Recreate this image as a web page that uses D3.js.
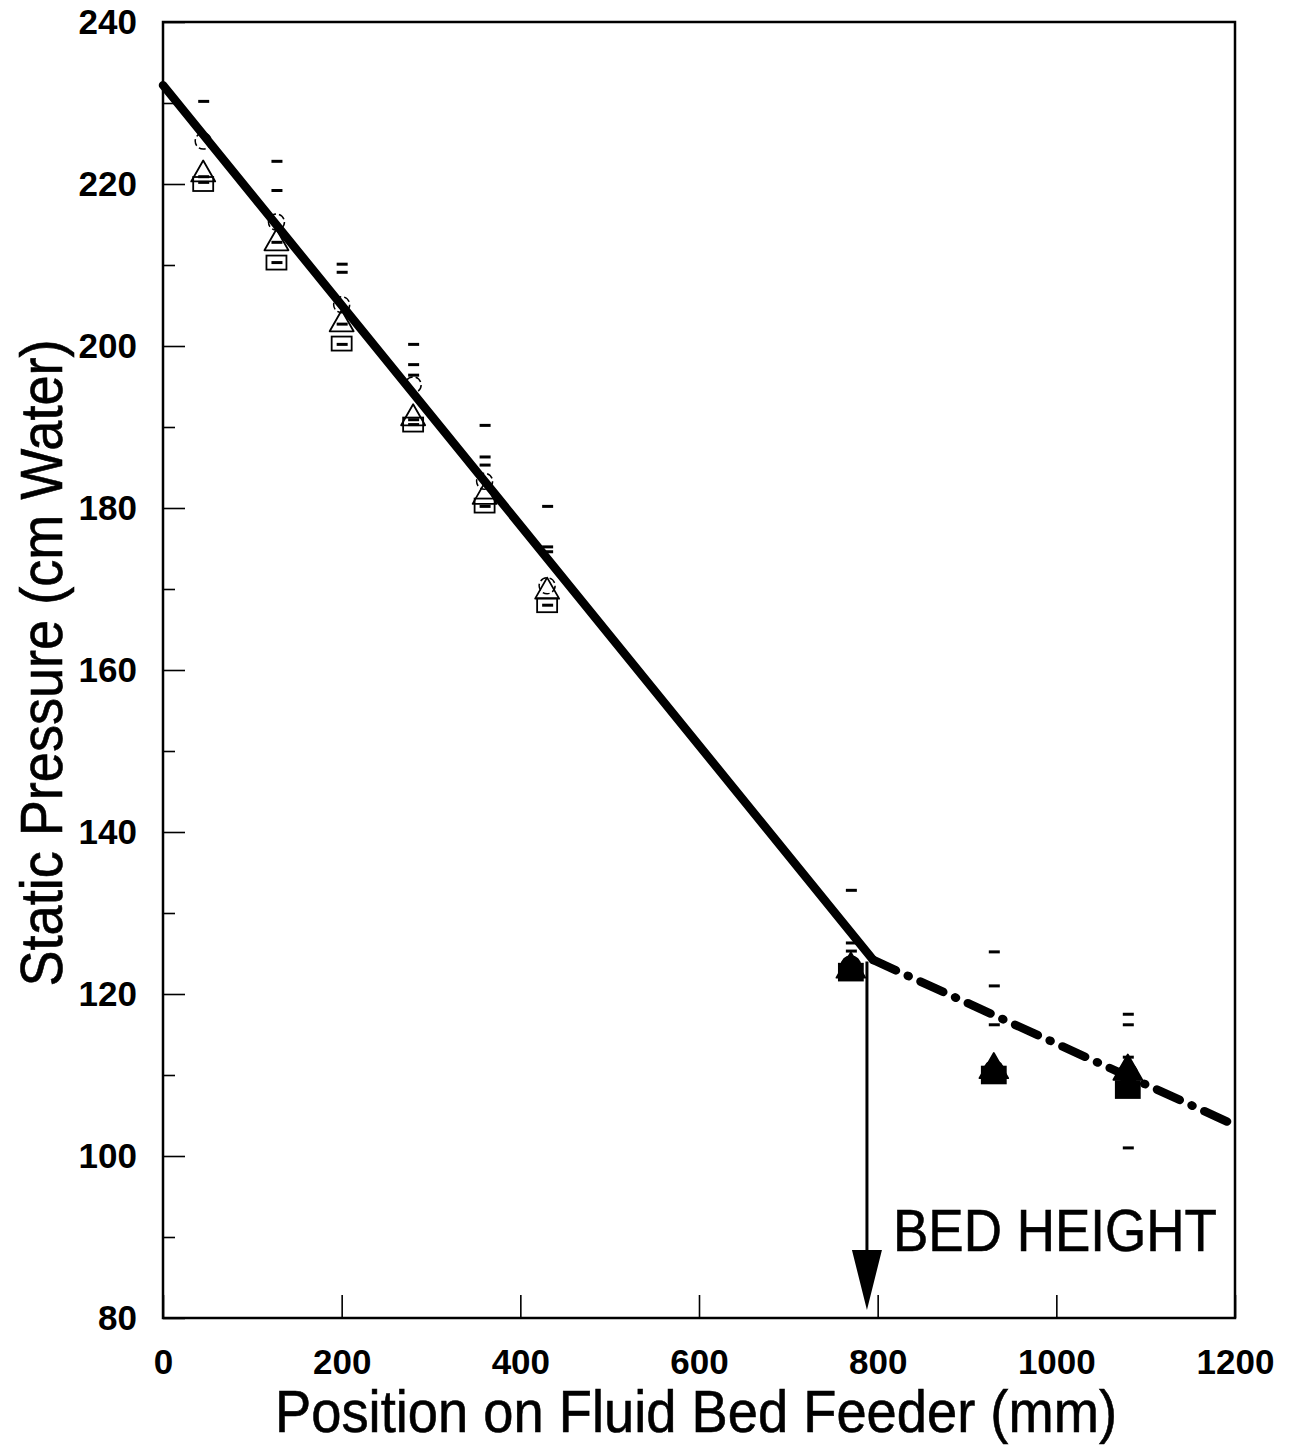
<!DOCTYPE html>
<html>
<head>
<meta charset="utf-8">
<script src="https://cdn.jsdelivr.net/npm/d3@7/dist/d3.min.js"></script>
<style>
  html, body { margin: 0; padding: 0; background: #fff; }
  svg { display: block; font-family: "Liberation Sans", Arial, Helvetica, sans-serif; }
</style>
</head>
<body>
<svg id="chart" width="1293" height="1449"></svg>
<script>
// Measurement positions along the feeder (mm)
const positions = [45, 127, 200, 280, 360, 430, 770, 930, 1080];
// Static pressure readings (cm water) for each run
const circleVals   = [225.3, 215.3, 205.1, 195.2, 183.3, 170.4, 123.5, 110.6, 110.2];
const triangleVals = [221.3, 212.8, 202.8, 191.2, 181.5, 169.8, 123.2, 110.8, 110.6];
const squareVals   = [220.0, 210.3, 200.3, 190.3, 180.3, 168.0, 122.7, 110.0, 108.2];
// Positions above the bed show solid symbols
const filledMarks  = [false, false, false, false, false, false, true, true, true];
// Single-reading dash marks at each position
const dashVals = [
  [230.2, 220.9, 220.2],
  [222.8, 219.2, 212.8, 210.3],
  [210.1, 209.1, 202.7, 200.2],
  [200.2, 197.7, 196.4, 190.9, 190.3],
  [190.2, 186.3, 185.3, 180.2],
  [180.2, 175.2, 174.6, 168.0],
  [132.8, 126.3, 125.3],
  [125.2, 121.0, 116.2],
  [117.5, 116.2, 112.2, 101.0]
];
// Fitted pressure profile: in-bed segment and freeboard segment
const bedFit   = [[0, 232.2], [795, 124.2]];
const freeFit  = [[795, 124.2], [1200, 103.8]];
// Bed height marker
const bedHeightMm = 788;
const bedArrowFrom = 124.0;
const bedArrowTo = 81.0;

const xTicks = [0, 200, 400, 600, 800, 1000, 1200];
const yTicks = [80, 100, 120, 140, 160, 180, 200, 220, 240];
const yMinorTicks = [90, 110, 130, 150, 170, 190, 210, 230];

const svg = d3.select("#chart");
const plotL = 163, plotR = 1235, plotT = 22, plotB = 1318;

const x = d3.scaleLinear().domain([0, 1200]).range([plotL, plotR]);
const y = d3.scaleLinear().domain([80, 240]).range([plotB, plotT]);

// Axes with inward ticks
const yAxis = svg.append("g").attr("transform", `translate(${plotL},0)`)
  .call(d3.axisLeft(y).tickValues(yTicks).tickSize(-22).tickPadding(26).tickFormat(d3.format("d")));
const yMinor = svg.append("g").attr("transform", `translate(${plotL},0)`)
  .call(d3.axisLeft(y).tickValues(yMinorTicks).tickSize(-12).tickFormat(""));
const xAxis = svg.append("g").attr("transform", `translate(0,${plotB})`)
  .call(d3.axisBottom(x).tickValues(xTicks).tickSize(-23).tickPadding(31).tickFormat(d3.format("d")));

[yAxis, yMinor, xAxis].forEach(g => {
  g.select(".domain").remove();
  g.selectAll(".tick line").attr("stroke", "#000").attr("stroke-width", 1.6);
  g.selectAll("text").attr("fill", "#000").attr("font-size", 35).attr("font-weight", "bold")
    .attr("font-family", "'Liberation Sans', Arial, sans-serif");
});

// Plot frame
svg.append("rect")
  .attr("x", plotL).attr("y", plotT)
  .attr("width", plotR - plotL).attr("height", plotB - plotT)
  .attr("fill", "none").attr("stroke", "#000").attr("stroke-width", 2.5);

// Axis titles
svg.append("text")
  .attr("x", 696).attr("y", 1432)
  .attr("text-anchor", "middle").attr("font-size", 59)
  .attr("stroke", "#000").attr("stroke-width", 0.6)
  .attr("textLength", 842).attr("lengthAdjust", "spacingAndGlyphs")
  .text("Position on Fluid Bed Feeder (mm)");

svg.append("text")
  .attr("transform", "translate(62,663) rotate(-90)")
  .attr("text-anchor", "middle").attr("font-size", 59)
  .attr("stroke", "#000").attr("stroke-width", 0.6)
  .attr("textLength", 647).attr("lengthAdjust", "spacingAndGlyphs")
  .text("Static Pressure (cm Water)");

// Data symbols
const pts = positions.map((p, i) => ({
  x: p, c: circleVals[i], t: triangleVals[i], s: squareVals[i], filled: filledMarks[i], dashes: dashVals[i]
}));

const marks = svg.append("g");
pts.forEach(d => {
  const fill = d.filled ? "#000" : "none";
  const k = d.filled ? 1.2 : 1;
  const cx = x(d.x);
  marks.append("rect")
    .attr("x", cx - 10 * k).attr("y", y(d.s) - 7 * k)
    .attr("width", 20 * k).attr("height", 14 * k)
    .attr("fill", fill).attr("stroke", "#000").attr("stroke-width", 1.8);
  const ty = y(d.t);
  marks.append("path")
    .attr("d", `M${cx},${ty - 13 * k}L${cx + 12 * k},${ty + 8 * k}L${cx - 12 * k},${ty + 8 * k}Z`)
    .attr("fill", fill).attr("stroke", "#000").attr("stroke-width", 1.8)
    .attr("stroke-linejoin", "round");
  marks.append("circle")
    .attr("cx", cx).attr("cy", y(d.c)).attr("r", 8 * k)
    .attr("fill", fill).attr("stroke", "#000").attr("stroke-width", 1.5)
    .attr("stroke-dasharray", d.filled ? null : "7,3");
  d.dashes.forEach(v => {
    marks.append("line")
      .attr("x1", cx - 5).attr("x2", cx + 6)
      .attr("y1", y(v)).attr("y2", y(v))
      .attr("stroke", "#000").attr("stroke-width", 3);
  });
});

// Fitted profile lines
const line = d3.line().x(d => x(d[0])).y(d => y(d[1]));
svg.append("path").datum(bedFit).attr("d", line)
  .attr("fill", "none").attr("stroke", "#000").attr("stroke-width", 8.5)
  .attr("stroke-linecap", "round");
svg.append("path").datum(freeFit).attr("d", line)
  .attr("fill", "none").attr("stroke", "#000").attr("stroke-width", 8.5)
  .attr("stroke-linecap", "round").attr("stroke-dasharray", "25,13,1,13");

// Bed height arrow
const ax = x(bedHeightMm);
const tipY = y(bedArrowTo);
svg.append("line")
  .attr("x1", ax).attr("x2", ax)
  .attr("y1", y(bedArrowFrom)).attr("y2", tipY - 50)
  .attr("stroke", "#000").attr("stroke-width", 3);
svg.append("path")
  .attr("d", `M${ax - 15},${tipY - 60}L${ax + 15},${tipY - 60}L${ax},${tipY}Z`)
  .attr("fill", "#000");

svg.append("text")
  .attr("x", 893).attr("y", 1251)
  .attr("font-size", 60)
  .attr("stroke", "#000").attr("stroke-width", 0.6)
  .attr("textLength", 324).attr("lengthAdjust", "spacingAndGlyphs")
  .text("BED HEIGHT");
</script>
</body>
</html>
